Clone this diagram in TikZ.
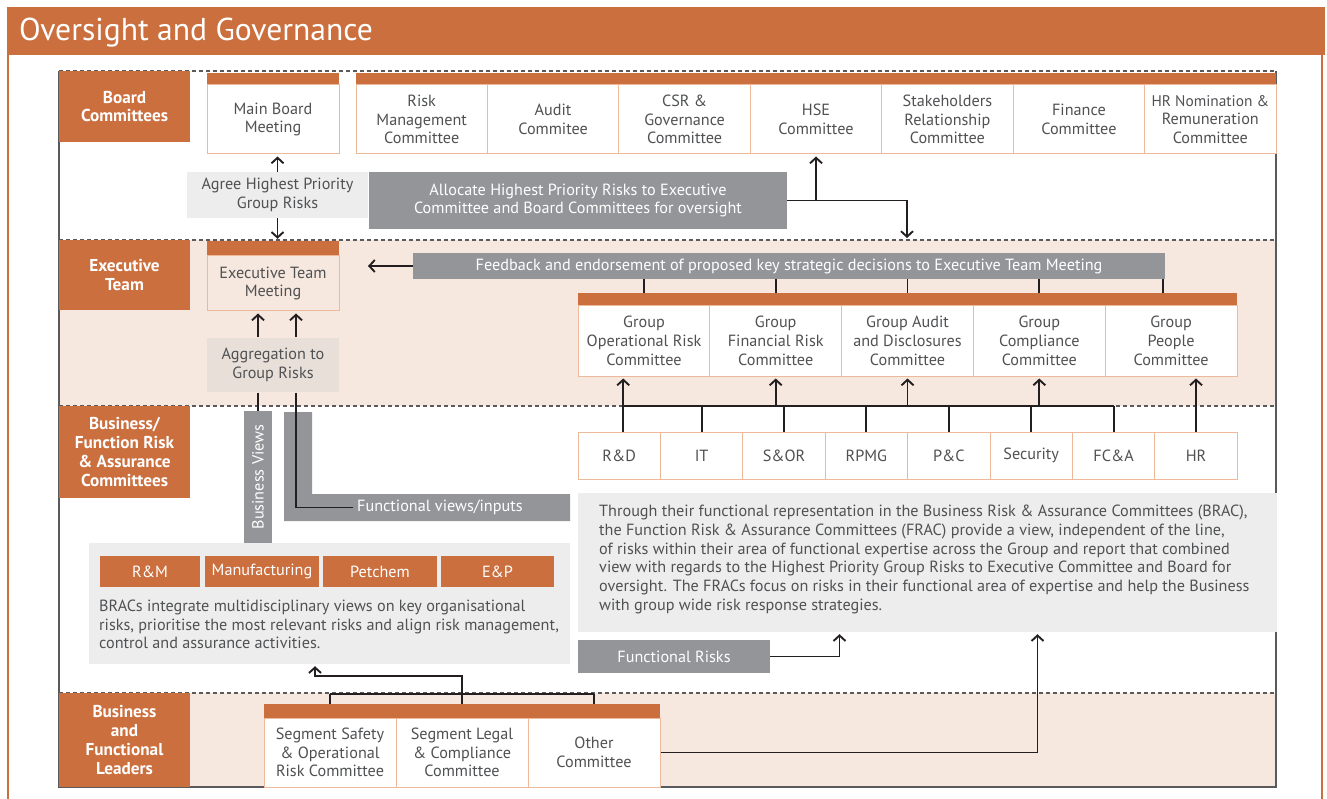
\documentclass[tikz,border=0pt]{standalone}
\usepackage{fontspec}
\setmainfont{PT Sans}
\usetikzlibrary{arrows.meta}
\definecolor{OGOrange}{HTML}{CB6F3E}
\definecolor{OGPeach}{HTML}{F6E8DE}
\definecolor{OGEdge}{HTML}{EDB99B}
\definecolor{OGGrey}{HTML}{939598}
\definecolor{OGLight}{HTML}{EDEDED}
\definecolor{OGAgg}{HTML}{E8DFD9}
\definecolor{OGText}{HTML}{505153}
\definecolor{OGFrame}{HTML}{5A5A5C}
\definecolor{OGLine}{HTML}{231F20}
\newcommand{\ogfont}{\fontsize{16.2}{18.8}\selectfont}
\newcommand{\oglblfont}{\bfseries\fontsize{17.2}{18.7}\selectfont}

\begin{document}
\begin{tikzpicture}[x=1pt,y=-1pt,
  cbox/.style={draw=OGEdge, fill=white, line width=1pt, text=OGText, align=center, font=\ogfont, inner sep=0pt},
  orbar/.style={fill=OGOrange, inner sep=0pt},
  lbl/.style={fill=OGOrange, text=white, align=center, font=\oglblfont, inner sep=0pt, minimum width=131},
  dbox/.style={fill=OGGrey, text=white, align=center, font=\ogfont, inner sep=0pt},
  lbox/.style={fill=OGLight, text=OGText, align=center, font=\ogfont, inner sep=0pt},
  conn/.style={draw=OGLine, line width=1.9pt},
  arr/.style={conn, -{Straight Barb[length=5.5pt,width=12pt]}, shorten >=2pt},
  sep/.style={draw=OGFrame, line width=1.2pt, dash pattern=on 4pt off 3pt}
]
\useasboundingbox (0,0) rectangle (1327,799);

% banner and outer frame
\fill[OGOrange] (7,7) rectangle (1325,55);
\node[anchor=west, text=white, font=\fontsize{31.6}{36}\selectfont, inner sep=0pt] (title) at (19,33) {Oversight and Governance};
\draw[OGOrange, line width=1.5pt] (7.75,55) -- (7.75,799);
\draw[OGOrange, line width=1.5pt] (1322,55) -- (1322,799);

% bands
\fill[OGPeach] (59,240) rectangle (1276,406);
\fill[OGPeach] (59,693) rectangle (1276,787);
\draw[sep] (59,71) -- (1276,71);
\draw[sep] (59,240) -- (1276,240);
\draw[sep] (59,406) -- (1276,406);
\draw[sep] (59,693) -- (1276,693);
\draw[OGFrame, line width=1.5pt] (59,71) -- (59,787) -- (1276,787) -- (1276,71);

% left labels
\node[lbl, minimum height=71] (lblboard) at (124.5,106.5) {Board\\Committees};
\node[lbl, minimum height=70] (lblexec) at (124.5,275) {Executive\\Team};
\node[lbl, minimum height=92] (lblbrac) at (124.5,452) {Business/\\Function Risk\\\& Assurance\\Committees};
\node[lbl, minimum height=94] (lbllead) at (124.5,740) {Business\\and\\Functional\\Leaders};

% board committees
\node[orbar, minimum width=132, minimum height=12] (mbmbar) at (273,79) {};
\node[cbox, minimum width=132, minimum height=69] (mbm) at (273,119.5) {Main Board\\Meeting};
\node[orbar, minimum width=920, minimum height=12] (bcbar) at (816,79) {};
\node[cbox, minimum width=131.4, minimum height=69] (rmc) at (421.7,119.5) {Risk\\Management\\Committee};
\node[cbox, minimum width=131.4, minimum height=69] (adc) at (553.1,119.5) {Audit\\Commitee};
\node[cbox, minimum width=131.4, minimum height=69] (csr) at (684.6,119.5) {CSR \&\\Governance\\Committee};
\node[cbox, minimum width=131.4, minimum height=69] (hse) at (816,119.5) {HSE\\Committee};
\node[cbox, minimum width=131.4, minimum height=69] (src) at (947.4,119.5) {Stakeholders\\Relationship\\Committee};
\node[cbox, minimum width=131.4, minimum height=69] (fnc) at (1078.9,119.5) {Finance\\Committee};
\node[cbox, minimum width=131.4, minimum height=69] (hrn) at (1210.3,119.5) {\fontsize{15.4}{18.8}\selectfont HR Nomination \&\\Remuneration\\Committee};
\node[lbox, minimum width=181, minimum height=46] (agree) at (277.5,195) {Agree Highest Priority\\Group Risks};
\node[dbox, minimum width=418, minimum height=57] (alloc) at (578,200.5) {Allocate Highest Priority Risks to Executive\\Committee and Board Committees for oversight};
\coordinate (alloctip) at (907,240);

% executive team
\node[orbar, minimum width=132, minimum height=15] (etmbar) at (273,248.5) {};
\node[cbox, fill=OGPeach, minimum width=132, minimum height=55] (etm) at (273,283.5) {Executive Team\\Meeting};
\node[dbox, minimum width=752, minimum height=26] (fb) at (789,266) {Feedback and endorsement of proposed key strategic decisions to Executive Team Meeting};
\coordinate (fbtip) at (366,266);
\node[cbox, draw=none, fill=OGAgg, minimum width=132, minimum height=54] (agg) at (273,365) {Aggregation to\\Group Risks};
\node[orbar, minimum width=659, minimum height=13] (gbar) at (907.5,299.5) {};
\node[cbox, minimum width=131.8, minimum height=70] (gor) at (644,341) {Group\\Operational Risk\\Committee};
\node[cbox, minimum width=131.8, minimum height=70] (gfr) at (775.7,341) {Group\\Financial Risk\\Committee};
\node[cbox, minimum width=131.8, minimum height=70] (gad) at (907.5,341) {Group Audit\\and Disclosures\\Committee};
\node[cbox, minimum width=131.8, minimum height=70] (gcc) at (1039.3,341) {Group\\Compliance\\Committee};
\node[cbox, minimum width=131.8, minimum height=70] (gpc) at (1171.1,341) {Group\\People\\Committee};

% function risk and assurance committees
\node[cbox, minimum width=82.4, minimum height=47] (frd) at (619.2,455.5) {R\&D};
\node[cbox, minimum width=82.4, minimum height=47] (fit) at (701.6,455.5) {IT};
\node[cbox, minimum width=82.4, minimum height=47] (fsor) at (784,455.5) {S\&OR};
\node[cbox, minimum width=82.4, minimum height=47] (frpmg) at (866.4,455.5) {RPMG};
\node[cbox, minimum width=82.4, minimum height=47] (fpc) at (948.8,455.5) {P\&C};
\node[cbox, minimum width=82.4, minimum height=47] (fsec) at (1031.2,455.5) {Security};
\node[cbox, minimum width=82.4, minimum height=47] (ffca) at (1113.6,455.5) {FC\&A};
\node[cbox, minimum width=82.4, minimum height=47] (fhr) at (1196,455.5) {HR};
\coordinate (gbus) at (0,406);
\coordinate (rdtop) at ([xshift=4]frd.north);
\node[dbox, rotate=90, minimum width=132, minimum height=28] (bv) at (258,477) {Business Views};
\fill[OGGrey] (284,412) -- (312,412) -- (312,494) -- (570,494) -- (570,521) -- (284,521) -- cycle;
\node[anchor=west, text=white, font=\ogfont, inner sep=4pt] (fv) at (353,507.5) {Functional views/inputs};
\node[lbox, minimum width=481, minimum height=121] (brac) at (329.5,603.5) {};
\node[dbox, fill=OGOrange, minimum width=100, minimum height=31] (brm) at (150,571.5) {R\&M};
\node[dbox, fill=OGOrange, minimum width=114, minimum height=31] (bmf) at (262,571.5) {Manufacturing};
\node[dbox, fill=OGOrange, minimum width=114, minimum height=31] (bpc) at (380,571.5) {Petchem};
\node[dbox, fill=OGOrange, minimum width=113, minimum height=31] (bep) at (497.5,571.5) {E\&P};
\node[anchor=west, text=OGText, align=left, font=\ogfont, inner sep=0pt] (bractxt) at (99,624.5) {BRACs integrate multidisciplinary views on key organisational\\risks, prioritise the most relevant risks and align risk management,\\control and assurance activities.};
\node[lbox, minimum width=699, minimum height=139] (frac) at (927.5,562.5) {};
\node[anchor=west, text=OGText, align=left, font=\ogfont, inner sep=0pt] (fractxt) at (599,559.5) {Through their functional representation in the Business Risk \& Assurance Committees (BRAC),\\the Function Risk \& Assurance Committees (FRAC) provide a view, independent of the line,\\of risks within their area of functional expertise across the Group and report that combined\\view with regards to the Highest Priority Group Risks to Executive Committee and Board for\\oversight. The FRACs focus on risks in their functional area of expertise and help the Business\\with group wide risk response strategies.};
\node[dbox, minimum width=192, minimum height=33] (frisk) at (674,656.5) {Functional Risks};

% business and functional leaders
\node[orbar, minimum width=396, minimum height=14] (segbar) at (462,711) {};
\node[cbox, minimum width=132, minimum height=69] (ssor) at (330,752.5) {Segment Safety\\\& Operational\\Risk Committee};
\node[cbox, minimum width=132, minimum height=69] (slc) at (462,752.5) {Segment Legal\\\& Compliance\\Committee};
\node[cbox, minimum width=132, minimum height=69] (soc) at (594,752.5) {Other\\Committee};
\coordinate (sbus) at (0,694);

% connectors
\draw[arr] (agree.north) -- (agree.north |- mbm.south);
\draw[arr] (agree.south) -- (agree.south |- etmbar.north);
\draw[arr] (alloc.east) -| (alloctip);
\draw[arr] (alloc.east -| hse.south) -- (hse.south);
\draw[arr] (fb.west) -- (fbtip);
\draw[conn] (gor.north |- fb.south) -- (gor.north |- gbar.north);
\draw[conn] (gfr.north |- fb.south) -- (gfr.north |- gbar.north);
\draw[conn] (gad.north |- fb.south) -- (gad.north |- gbar.north);
\draw[conn] (gcc.north |- fb.south) -- (gcc.north |- gbar.north);
\draw[conn] ([xshift=-2]fb.south east) -- ([xshift=-2]fb.south east |- gbar.north);
\draw[arr] ([xshift=-15]agg.north) -- ([xshift=-15]agg.north |- etm.south);
\draw[arr] ([xshift=23]agg.north) -- ([xshift=23]agg.north |- etm.south);
\draw[conn] (rdtop |- gbus) -- (ffca.north |- gbus);
\draw[conn] (fit.north) -- (fit.north |- gbus);
\draw[conn] (fsor.north) -- (fsor.north |- gbus);
\draw[conn] (frpmg.north) -- (frpmg.north |- gbus);
\draw[conn] (fpc.north) -- (fpc.north |- gbus);
\draw[conn] (fsec.north) -- (fsec.north |- gbus);
\draw[conn] (ffca.north) -- (ffca.north |- gbus);
\draw[arr] (rdtop) -- (rdtop |- gor.south);
\draw[arr] (gfr.south |- gbus) -- (gfr.south);
\draw[arr] (gad.south |- gbus) -- (gad.south);
\draw[arr] (gcc.south |- gbus) -- (gcc.south);
\draw[arr] (fhr.north) -- (fhr.north |- gpc.south);
\draw[conn] (bv.east |- agg.south) -- (bv.east);
\draw[conn] ([xshift=23]agg.south) |- (fv.west);
\draw[arr] (frisk.east) -| ([xshift=-88]frac.south);
\draw[conn] (ssor.north |- sbus) -- (soc.north |- sbus);
\draw[conn] (ssor.north |- sbus) -- (ssor.north |- segbar.north);
\draw[conn] (slc.north |- sbus) -- (slc.north |- segbar.north);
\draw[conn] (soc.north |- sbus) -- (soc.north |- segbar.north);
\draw[arr] (slc.north |- sbus) -- ++(0,-18) -| ([xshift=-14.5]brac.south);
\draw[arr] (soc.east) -| ([xshift=110]frac.south);
\end{tikzpicture}
\end{document}
